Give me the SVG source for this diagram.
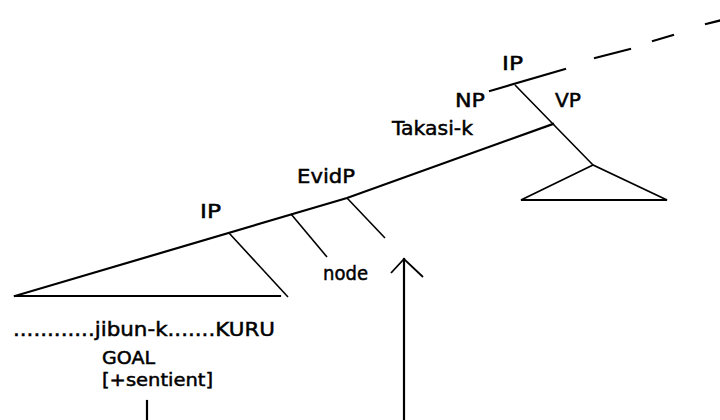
<svg xmlns="http://www.w3.org/2000/svg" width="720" height="420" viewBox="0 0 720 420">
<style>
text{font-family:"DejaVu Sans","Liberation Sans",sans-serif;font-size:20px;fill:#000;stroke:#000;stroke-width:0.5}
.sm{font-size:18px}
.thick{stroke:#000;stroke-width:2.2;fill:none;stroke-linecap:square}
.thin{stroke:#000;stroke-width:1.6;fill:none}
</style>
<rect width="720" height="420" fill="#fff"/>
<g id="connectors">
<polyline class="thick" points="15,296 347,198 553,124"/>
<line class="thick" x1="15" y1="296" x2="280" y2="296"/>
<line class="thin" x1="229" y1="233" x2="288" y2="297"/>
<line class="thin" x1="291" y1="214" x2="327" y2="257"/>
<line class="thin" x1="347" y1="198" x2="385" y2="238"/>
<line class="thick" x1="490" y1="91" x2="565" y2="69"/>
<polyline class="thin" points="515,85 553,124 593,165"/>
<polygon class="thin" points="593,165 521,200 667,200" style="stroke-width:1.8"/>
<line class="thick" x1="595" y1="58" x2="630" y2="49"/>
<line class="thick" x1="653" y1="41" x2="673" y2="35"/>
<line class="thick" x1="706" y1="24" x2="722" y2="20"/>
<line class="thick" x1="404" y1="259" x2="404" y2="422"/>
<polyline class="thin" points="391,273 404,259 423,277" style="stroke-width:1.8"/>
<line class="thick" x1="147" y1="401" x2="147" y2="422"/>
</g>
<g id="ip-top"><text x="502" y="70" textLength="21" lengthAdjust="spacingAndGlyphs">IP</text></g>
<g id="np"><text x="455" y="107" textLength="30" lengthAdjust="spacingAndGlyphs">NP</text></g>
<g id="vp"><text x="555" y="107" textLength="26" lengthAdjust="spacingAndGlyphs">VP</text></g>
<g id="takasi"><text x="392" y="135" textLength="81" lengthAdjust="spacingAndGlyphs">Takasi-k</text></g>
<g id="evidp"><text x="297" y="183" textLength="58" lengthAdjust="spacingAndGlyphs">EvidP</text></g>
<g id="ip-low"><text x="200" y="218" textLength="21" lengthAdjust="spacingAndGlyphs">IP</text></g>
<g id="node"><text x="323" y="280" textLength="45" lengthAdjust="spacingAndGlyphs">node</text></g>
<g id="string"><text x="13" y="336" textLength="262" lengthAdjust="spacingAndGlyphs">............jibun-k.......KURU</text></g>
<g id="goal"><text class="sm" x="102" y="364" textLength="53" lengthAdjust="spacingAndGlyphs">GOAL</text>
<text class="sm" x="102" y="386" textLength="111" lengthAdjust="spacingAndGlyphs">[+sentient]</text></g>
</svg>
